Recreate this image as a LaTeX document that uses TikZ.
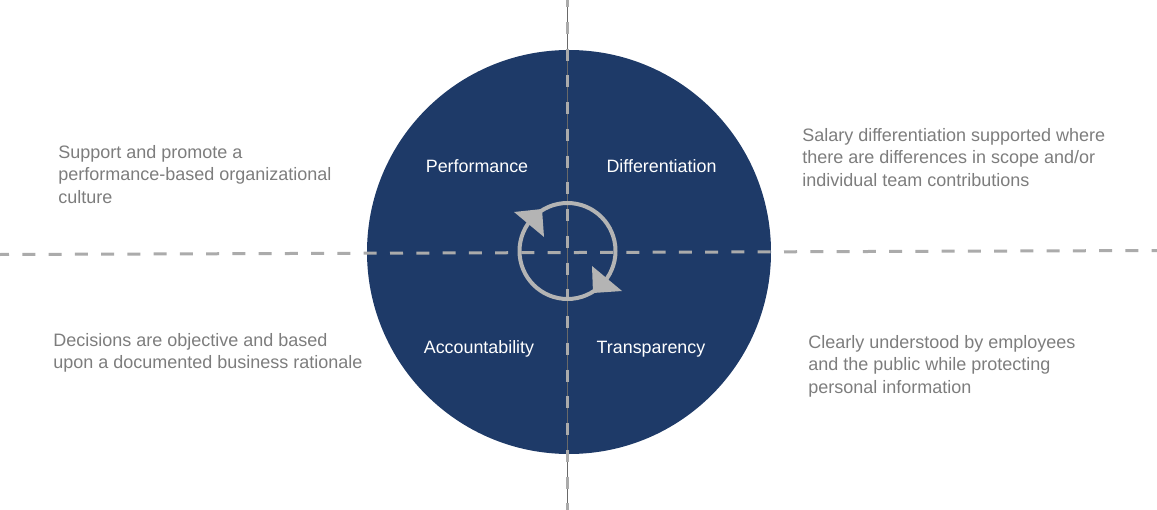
\documentclass[tikz,border=0pt]{standalone}
\usepackage{fontspec}
\setmainfont{Liberation Sans}
\definecolor{navy}{RGB}{30,58,104}
\definecolor{txtgray}{RGB}{125,125,125}
\definecolor{dashgray}{RGB}{171,171,171}
\definecolor{ringgray}{RGB}{180,180,180}
\definecolor{axisgray}{RGB}{105,105,105}
\begin{document}
\begin{tikzpicture}[x=0.75pt,y=-0.75pt,
  desc/.style={anchor=north west, inner sep=0pt, align=left, text=txtgray,
    font=\fontsize{13.5}{16.9}\selectfont},
  quad/.style={anchor=base, inner sep=0pt, text=white,
    font=\fontsize{13.4}{16.9}\selectfont},
  hdash/.style={draw=dashgray, line width=2.25pt, dash pattern=on 9.75pt off 9.95pt, dash phase=3pt},
  vdash/.style={draw=dashgray, line width=2.25pt, dash pattern=on 9pt off 11.06pt, dash phase=3.56pt},
  axisline/.style={draw=axisgray, line width=0.75pt},
  ring/.style={circle, draw=ringgray, line width=3pt, minimum size=72pt, inner sep=0pt},
  disc/.style={circle, fill=navy, minimum size=303pt, inner sep=0pt}]
\useasboundingbox (0,0) rectangle (1157,510);
\node[disc] (disc) at (569,252) {};
\coordinate (vt) at (567.5,0);
\coordinate (vb) at (567.5,510);
\coordinate (hl) at (0,254.5);
\coordinate (hr) at (1157,250.5);
\draw[axisline] (vt) -- (vb);
\draw[vdash] (vt) -- (vb);
\draw[hdash] (hl) -- (hr);
\node[ring] (ring) at (567.5,251) {};
\fill[ringgray] (514,212) -- (542,209) -- (544,237) -- cycle;
\fill[ringgray] (622,291) -- (592,266) -- (593,293) -- cycle;
\node[quad] (perf) at (477,172) {Performance};
\node[quad] (diff) at (661.5,172) {Differentiation};
\node[quad] (acc) at (479,353) {Accountability};
\node[quad] (trans) at (651,353) {Transparency};
\node[desc] (tl) at (58,145) {Support and promote a\\performance-based organizational\\culture};
\node[desc] (tr) at (802,128) {Salary differentiation supported where\\there are differences in scope and/or\\individual team contributions};
\node[desc] (bl) at (53,333) {Decisions are objective and based\\upon a documented business rationale};
\node[desc] (br) at (808,335) {Clearly understood by employees\\and the public while protecting\\personal information};
\end{tikzpicture}
\end{document}
